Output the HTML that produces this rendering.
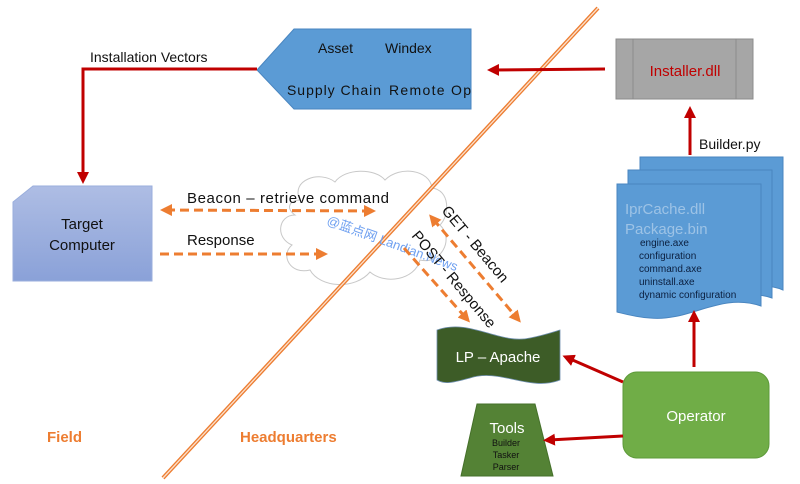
<!DOCTYPE html>
<html><head><meta charset="utf-8"><style>
html,body{margin:0;padding:0;background:#fff;}
svg{display:block;font-family:"Liberation Sans","Noto Sans CJK SC",sans-serif;}
</style></head><body>
<svg width="800" height="484" viewBox="0 0 800 484" xmlns="http://www.w3.org/2000/svg">
<defs>
<marker id="ra" markerWidth="4" markerHeight="4" refX="2" refY="2" orient="auto" markerUnits="strokeWidth"><path d="M0,0 L4,2 L0,4 Z" fill="#c00000"/></marker>
<marker id="oa" markerWidth="4" markerHeight="4" refX="2" refY="2" orient="auto-start-reverse" markerUnits="strokeWidth"><path d="M0,0 L4,2 L0,4 Z" fill="#ed7d31"/></marker>
<linearGradient id="tg" x1="0" y1="0" x2="0" y2="1"><stop offset="0" stop-color="#aebde4"/><stop offset="1" stop-color="#8aa1d8"/></linearGradient>
</defs>

<g fill="#fff" stroke="#c8c8c8" stroke-width="1">
<path d="M300,200 C290,180 320,170 335,182 C345,168 375,168 385,180 C400,165 430,170 432,188 C450,190 450,215 440,225 C455,240 440,265 420,260 C415,280 385,285 370,272 C355,290 320,288 310,270 C290,275 280,255 292,245 C275,238 278,215 295,215 C285,208 290,200 300,200 Z"/>
</g>

<line x1="598" y1="8" x2="163" y2="478" stroke="#ed7d31" stroke-width="4"/>
<line x1="598" y1="8" x2="163" y2="478" stroke="#fbe0cc" stroke-width="1.3"/>

<polygon points="257,70 294,29 471,29 471,109 294,109" fill="#5b9bd5" stroke="#4a86c0" stroke-width="1"/>
<text x="318" y="53" font-size="14" fill="#111">Asset</text>
<text x="385" y="53" font-size="14" fill="#111">Windex</text>
<text x="287" y="95" font-size="14" fill="#111" textLength="94">Supply Chain</text>
<text x="389" y="95" font-size="14" fill="#111" textLength="82">Remote Op</text>

<rect x="616" y="39" width="137" height="60" fill="#a6a6a6" stroke="#8c8c8c"/>
<line x1="633" y1="39" x2="633" y2="99" stroke="#8c8c8c"/>
<line x1="736" y1="39" x2="736" y2="99" stroke="#8c8c8c"/>
<text x="685" y="76" font-size="15" fill="#c00000" text-anchor="middle">Installer.dll</text>
<line x1="605" y1="69" x2="493" y2="70" stroke="#c00000" stroke-width="3" marker-end="url(#ra)"/>

<polyline points="257,69 83,69 83,178" fill="none" stroke="#c00000" stroke-width="3" marker-end="url(#ra)"/>
<text x="90" y="62" font-size="14" fill="#111">Installation Vectors</text>

<polygon points="13,202 33,186 152,186 152,281 13,281" fill="url(#tg)" stroke="#9aaedc"/>
<text x="82" y="229" font-size="15" fill="#111" text-anchor="middle">Target</text>
<text x="82" y="250" font-size="15" fill="#111" text-anchor="middle">Computer</text>

<text x="187" y="203" font-size="15" fill="#111" textLength="202">Beacon – retrieve command</text>
<line x1="166" y1="210" x2="370" y2="211" stroke="#ed7d31" stroke-width="3" stroke-dasharray="9,5" marker-start="url(#oa)" marker-end="url(#oa)"/>
<text x="187" y="245" font-size="15" fill="#111">Response</text>
<line x1="160" y1="254" x2="322" y2="254" stroke="#ed7d31" stroke-width="3" stroke-dasharray="9,5" marker-end="url(#oa)"/>

<text x="0" y="0" font-size="13" fill="#6fa0f0" transform="translate(326,224) rotate(20)">@蓝点网 Landian.News</text>

<line x1="433" y1="219" x2="517" y2="318" stroke="#ed7d31" stroke-width="3" stroke-dasharray="9,5" marker-start="url(#oa)" marker-end="url(#oa)"/>
<line x1="404" y1="248" x2="466" y2="318" stroke="#ed7d31" stroke-width="3" stroke-dasharray="9,5" marker-end="url(#oa)"/>
<text x="0" y="0" font-size="15" fill="#111" transform="translate(441,211) rotate(50)">GET - Beacon</text>
<text x="0" y="0" font-size="15" fill="#111" transform="translate(411,236) rotate(50)">POST - Response</text>

<path d="M640,157 L783,157 L783,290 C760,280 740,292 720,295 L640,295 Z" fill="#5b9bd5" stroke="#4a86c0"/>
<path d="M628,170 L772,170 L772,298 C750,290 730,300 710,303 L628,303 Z" fill="#5b9bd5" stroke="#4a86c0"/>
<path d="M617,184 L761,184 L761,306 C720,292 690,322 650,318 C635,317 625,314 617,312 Z" fill="#5b9bd5" stroke="#4a86c0"/>
<text x="625" y="214" font-size="15" fill="#9dc3e6">IprCache.dll</text>
<text x="625" y="234" font-size="15" fill="#9dc3e6">Package.bin</text>
<g font-size="10" fill="#0b1f3f">
<text x="640" y="246">engine.axe</text>
<text x="639" y="259">configuration</text>
<text x="639" y="272">command.axe</text>
<text x="639" y="285">uninstall.axe</text>
<text x="639" y="298">dynamic configuration</text>
</g>
<line x1="690" y1="155" x2="690" y2="112" stroke="#c00000" stroke-width="3" marker-end="url(#ra)"/>
<text x="699" y="149" font-size="14" fill="#111">Builder.py</text>

<path d="M437,330 C470,318 500,345 530,338 C545,335 553,332 560,330 L560,380 C530,392 500,368 470,378 C455,382 445,385 437,380 Z" fill="#3d5c27" stroke="#7090b0" stroke-width="0.8"/>
<text x="498" y="362" font-size="15" fill="#fff" text-anchor="middle">LP – Apache</text>

<polygon points="477,404 535,404 553,476 461,476" fill="#548235" stroke="#45702a"/>
<text x="507" y="433" font-size="15" fill="#fff" text-anchor="middle">Tools</text>
<g font-size="9" fill="#111" text-anchor="middle">
<text x="506" y="446">Builder</text>
<text x="506" y="458">Tasker</text>
<text x="506" y="470">Parser</text>
</g>

<rect x="623" y="372" width="146" height="86" rx="14" fill="#70ad47" stroke="#5d9a3a"/>
<text x="696" y="421" font-size="15" fill="#fff" text-anchor="middle">Operator</text>
<line x1="623" y1="382" x2="568" y2="358" stroke="#c00000" stroke-width="3" marker-end="url(#ra)"/>
<line x1="623" y1="436" x2="549" y2="440" stroke="#c00000" stroke-width="3" marker-end="url(#ra)"/>
<line x1="694" y1="367" x2="694" y2="316" stroke="#c00000" stroke-width="3" marker-end="url(#ra)"/>

<text x="47" y="442" font-size="15" font-weight="bold" fill="#ed7d31">Field</text>
<text x="240" y="442" font-size="15" font-weight="bold" fill="#ed7d31">Headquarters</text>
</svg>
</body></html>
